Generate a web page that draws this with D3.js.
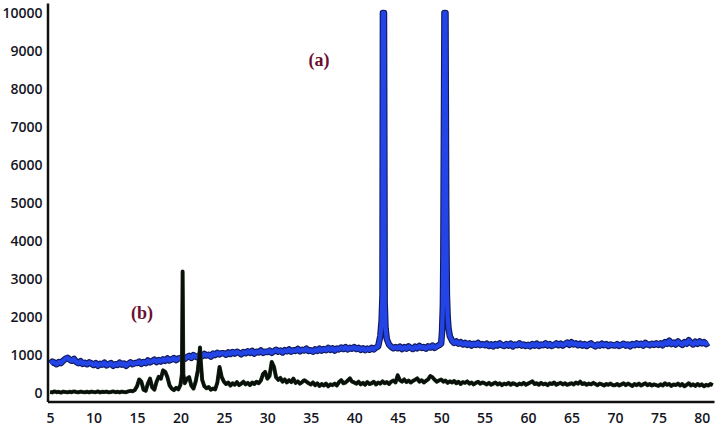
<!DOCTYPE html>
<html>
<head>
<meta charset="utf-8">
<script src="https://cdn.jsdelivr.net/npm/d3@7"></script>
<style>
  html, body { margin: 0; padding: 0; background: #fff; }
  svg { display: block; }
</style>
</head>
<body>
<svg id="chart" width="720" height="429"></svg>
<script>
// 2-theta grid for both patterns
const gridStart = 5;
const gridStep = 0.25;

// (a) blue pattern, counts every 0.25 deg from 5.00 (one row = 5 deg)
const curveA = [
  780, 830, 800, 760, 820, 790, 850, 900, 930, 880, 850, 900, 820, 790, 840, 770, 800, 760, 810, 780,
  740, 790, 720, 770, 750, 800, 730, 760, 790, 720, 760, 740, 800, 750, 780, 720, 770, 810, 760, 790,
  790, 830, 770, 820, 790, 860, 810, 840, 880, 820, 870, 830, 890, 850, 910, 860, 890, 920, 870, 910,
  920, 960, 900, 950, 980, 930, 1000, 960, 940, 1010, 970, 1030, 990, 1010, 960, 1040, 1000, 1060, 1020, 1050,
  1050, 1010, 1070, 1030, 1080, 1040, 1090, 1060, 1020, 1080, 1050, 1100, 1060, 1110, 1040, 1090, 1070, 1120, 1060, 1090,
  1080, 1120, 1060, 1100, 1140, 1090, 1120, 1070, 1130, 1100, 1150, 1090, 1130, 1110, 1160, 1100, 1140, 1120, 1170, 1110,
  1130, 1090, 1150, 1110, 1170, 1120, 1160, 1130, 1190, 1140, 1180, 1120, 1170, 1150, 1200, 1160, 1210, 1150, 1190, 1170,
  1210, 1160, 1190, 1140, 1180, 1130, 1170, 1140, 1190, 1150, 1200, 1230, 1500, 2600, 2400, 1420, 1280, 1220, 1180, 1210,
  1180, 1220, 1160, 1210, 1170, 1230, 1190, 1160, 1220, 1180, 1240, 1190, 1210, 1170, 1230, 1200, 1250, 1190, 1230, 1260,
  1300, 3500, 10000, 2000, 1500, 1380, 1320, 1360, 1300, 1340, 1280, 1320, 1270, 1310, 1250, 1300, 1270, 1320, 1260, 1290,
  1260, 1300, 1240, 1280, 1230, 1290, 1250, 1310, 1260, 1240, 1290, 1250, 1300, 1230, 1280, 1260, 1310, 1250, 1280, 1240,
  1270, 1230, 1290, 1250, 1300, 1240, 1280, 1260, 1310, 1250, 1290, 1240, 1270, 1310, 1260, 1300, 1250, 1290, 1330, 1270,
  1340, 1280, 1310, 1260, 1300, 1250, 1290, 1240, 1280, 1310, 1260, 1230, 1280, 1250, 1300, 1260, 1290, 1240, 1280, 1260,
  1250, 1290, 1240, 1270, 1300, 1250, 1280, 1230, 1290, 1260, 1310, 1270, 1300, 1250, 1320, 1280, 1260, 1300, 1270, 1310,
  1270, 1310, 1260, 1340, 1300, 1380, 1290, 1330, 1280, 1360, 1310, 1270, 1340, 1300, 1390, 1320, 1280, 1350, 1300, 1360,
  1310, 1340, 1290, 1330
];
// sharp reflections of (a), between grid points
const peaksA = [
  [43.15, 1900], [43.3, 10000], [43.42, 10000], [43.48, 5000], [43.6, 1700],
  [50.1, 1600], [50.2, 2300], [50.38, 10000], [50.58, 5000], [50.66, 2600], [50.85, 1700]
];

// (b) black pattern, counts every 0.25 deg from 5.00
const curveB = [
  30, 20, 45, 25, 35, 15, 40, 30, 20, 35, 25, 45, 30, 20, 40, 30, 25, 35, 20, 40,
  30, 25, 45, 20, 35, 30, 40, 20, 30, 45, 25, 35, 20, 40, 30, 25, 45, 60, 50, 80,
  180, 360, 300, 90, 60, 250, 380, 150, 90, 300, 430, 380, 600, 560, 420, 200, 120, 80, 140, 100,
  220, 3200, 260, 380, 420, 200, 120, 300, 600, 1200, 350, 180, 130, 160, 90, 120, 100, 280, 690, 420,
  300, 240, 280, 200, 260, 220, 290, 210, 250, 300, 230, 270, 210, 280, 240, 300, 260, 330, 500, 560,
  380, 450, 820, 700, 420, 350, 400, 300, 360, 280, 340, 290, 380, 270, 310, 250, 290, 340, 300, 260,
  230, 280, 210, 260, 190, 240, 200, 250, 180, 230, 210, 250, 200, 290, 340, 260, 280, 330, 390, 300,
  280, 250, 300, 230, 270, 220, 290, 240, 260, 300, 230, 280, 250, 310, 260, 290, 240, 300, 330, 280,
  470, 340, 300, 360, 290, 330, 280, 320, 350, 390, 300, 340, 280, 320, 360, 450, 420, 350, 300, 330,
  360, 300, 330, 270, 310, 280, 320, 260, 300, 240, 290, 270, 310, 250, 280, 230, 270, 300, 250, 280,
  260, 230, 270, 220, 250, 280, 230, 260, 210, 250, 230, 270, 220, 260, 240, 210, 250, 230, 270, 220,
  250, 280, 310, 240, 260, 220, 270, 230, 250, 210, 260, 240, 280, 220, 250, 270, 230, 260, 220, 240,
  260, 230, 280, 250, 300, 240, 260, 220, 250, 230, 270, 240, 210, 250, 230, 200, 240, 220, 250, 210,
  210, 240, 200, 230, 260, 210, 250, 220, 190, 240, 210, 250, 200, 230, 260, 210, 240, 200, 230, 210,
  190, 230, 200, 260, 220, 240, 190, 230, 210, 250, 200, 240, 180, 220, 260, 200, 230, 190, 240, 200,
  230, 180, 220, 200, 240, 210
];
const peaksB = [
  [20.17, 500], [20.33, 500], [22.18, 1000], [22.32, 900]
];

const xTicks = [5, 10, 15, 20, 25, 30, 35, 40, 45, 50, 55, 60, 65, 70, 75, 80];
const yTicks = [0, 1000, 2000, 3000, 4000, 5000, 6000, 7000, 8000, 9000, 10000];
const labels = [["(a)", 319, 8700], ["(b)", 142, 2050]];

const svg = d3.select("#chart");

const x = d3.scaleLinear().domain([4.7, 81.4]).range([47.5, 714]);
const y = d3.scaleLinear().domain([-220, 10260]).range([401.5, 3]);

const toPoints = (vals, extra) =>
  vals.map((v, i) => [gridStart + i * gridStep, v])
    .concat(extra)
    .sort((a, b) => a[0] - b[0]);

const line = d3.line().x((d) => x(d[0])).y((d) => y(d[1]));

const ptsA = toPoints(curveA, peaksA);
const ptsB = toPoints(curveB, peaksB);

// pattern (a): blue with a dark edge
svg.append("path").attr("d", line(ptsA))
  .attr("fill", "none").attr("stroke", "#101a5a").attr("stroke-width", 6.5)
  .attr("stroke-linejoin", "round");
svg.append("path").attr("d", line(ptsA))
  .attr("fill", "none").attr("stroke", "#2344e6").attr("stroke-width", 4.3)
  .attr("stroke-linejoin", "round");

// pattern (b)
svg.append("path").attr("d", line(ptsB))
  .attr("fill", "none").attr("stroke", "#1f3a1f").attr("stroke-width", 4)
  .attr("stroke-linejoin", "round");
svg.append("path").attr("d", line(ptsB))
  .attr("fill", "none").attr("stroke", "#0b0f0b").attr("stroke-width", 2.9)
  .attr("stroke-linejoin", "round");

// axes
svg.append("g")
  .attr("transform", `translate(0,${y.range()[0]})`)
  .call(d3.axisBottom(x).tickValues(xTicks).tickSize(0).tickPadding(12))
  .call((g) => g.select(".domain").attr("stroke", "#111").attr("stroke-width", 2.5))
  .call((g) => g.selectAll("text")
    .attr("font-family", "'Open Sans', sans-serif").attr("font-size", 14)
    .attr("font-weight", 600).attr("fill", "#15151f"));

svg.append("g")
  .attr("transform", `translate(${x.range()[0]},0)`)
  .call(d3.axisLeft(y).tickValues(yTicks).tickSize(0).tickPadding(5).tickFormat(d3.format("d")))
  .call((g) => g.select(".domain").attr("stroke", "#111").attr("stroke-width", 2.5))
  .call((g) => g.selectAll("text")
    .attr("font-family", "'Open Sans', sans-serif").attr("font-size", 14)
    .attr("font-weight", 600).attr("fill", "#15151f"));

svg.selectAll("text.tag")
  .data(labels)
  .join("text")
  .attr("class", "tag")
  .attr("x", (d) => d[1])
  .attr("y", (d) => y(d[2]))
  .attr("text-anchor", "middle")
  .attr("dominant-baseline", "middle")
  .attr("font-family", "'Liberation Serif', serif")
  .attr("font-weight", "bold")
  .attr("font-size", 18)
  .attr("fill", "#6a1030")
  .text((d) => d[0]);
</script>
</body>
</html>
